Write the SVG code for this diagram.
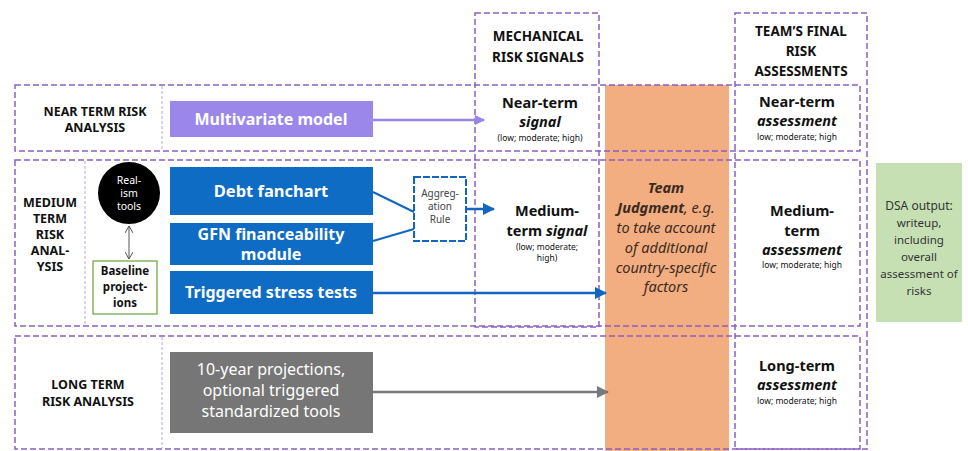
<svg xmlns="http://www.w3.org/2000/svg" width="968" height="451" viewBox="0 0 968 451">
<style>
text{font-family:"Noto Sans","Open Sans","Liberation Sans",sans-serif;text-anchor:middle;fill:#111}
.dash{fill:none;stroke:#8a5fc4;stroke-width:1.5;stroke-dasharray:6 3}
.thin{fill:none;stroke:#b8a5d8;stroke-width:1;stroke-dasharray:3 2}
.hdr{font-size:13.5px;font-weight:700}
.lbl{font-size:12.5px;font-weight:700}
.wb{fill:#fff;font-weight:700}
.big{font-size:14.5px;font-weight:700}
.bigi{font-size:14.5px;font-weight:700;font-style:italic}
.sm{font-size:8.5px}
.tj{font-size:14.5px;font-style:italic;fill:#3a2a20}
.dsa{font-size:11.5px;fill:#333}
.blue{fill:#0e6cc4}
</style>
<defs>
<marker id="ap" markerWidth="10" markerHeight="10" refX="9" refY="5" orient="auto" markerUnits="userSpaceOnUse"><path d="M0,0 L10,5 L0,10 z" fill="#9a84e6"/></marker>
<marker id="ab" markerWidth="12" markerHeight="12" refX="11" refY="6" orient="auto" markerUnits="userSpaceOnUse"><path d="M0,0 L12,6 L0,12 z" fill="#1266c0"/></marker>
<marker id="ag" markerWidth="12" markerHeight="12" refX="11" refY="6" orient="auto" markerUnits="userSpaceOnUse"><path d="M0,0 L12,6 L0,12 z" fill="#7a7a7a"/></marker>
<marker id="ak" markerWidth="8" markerHeight="8" refX="7" refY="4" orient="auto-start-reverse" markerUnits="userSpaceOnUse"><path d="M0,0 L7,4 L0,8" fill="none" stroke="#555" stroke-width="1"/></marker>
</defs>

<!-- orange judgment band -->
<g id="team-judgment">
<rect x="605" y="85" width="124" height="366" fill="#f2ad80"/>
<text class="tj" font-weight="700" x="666" y="193">Team</text>
<text class="tj" x="666" y="213"><tspan font-weight="700">Judgment</tspan>, e.g.</text>
<text class="tj" x="666" y="233">to take account</text>
<text class="tj" x="666" y="253">of additional</text>
<text class="tj" x="666" y="273">country-specific</text>
<text class="tj" x="666" y="292">factors</text>
</g>

<!-- rows -->
<g id="near-row">
<rect class="dash" x="15" y="85" width="845" height="66"/>
<line class="thin" x1="162" y1="86" x2="162" y2="150"/>
<text class="lbl" x="95" y="116">NEAR TERM RISK</text>
<text class="lbl" x="95" y="132">ANALYSIS</text>
</g>
<g id="medium-row">
<rect class="dash" x="15" y="160" width="845" height="166"/>
<line class="thin" x1="85" y1="161" x2="85" y2="325"/>
<text class="lbl" x="50" y="207">MEDIUM</text>
<text class="lbl" x="50" y="223">TERM</text>
<text class="lbl" x="50" y="239">RISK</text>
<text class="lbl" x="50" y="255">ANAL-</text>
<text class="lbl" x="50" y="271">YSIS</text>
</g>
<g id="long-row">
<rect class="dash" x="15" y="336" width="845" height="113"/>
<line class="thin" x1="162" y1="337" x2="162" y2="448"/>
<text class="lbl" x="88" y="389">LONG TERM</text>
<text class="lbl" x="88" y="406">RISK ANALYSIS</text>
</g>

<!-- columns -->
<g id="mechanical-col">
<rect class="dash" x="475" y="13" width="124" height="314"/>
<text class="hdr" x="538" y="41">MECHANICAL</text>
<text class="hdr" x="538" y="62">RISK SIGNALS</text>
</g>
<g id="final-col">
<rect class="dash" x="735" y="13" width="132" height="436"/>
<text class="hdr" x="801" y="36">TEAM’S FINAL</text>
<text class="hdr" x="801" y="56">RISK</text>
<text class="hdr" x="801" y="76">ASSESSMENTS</text>
</g>

<!-- source boxes -->
<g id="multivariate">
<rect x="170" y="101" width="203" height="36" fill="#9b87ea"/>
<text class="wb" font-size="16" x="271" y="125">Multivariate model</text>
</g>
<g id="debt-fanchart">
<rect class="blue" x="170" y="167" width="203" height="48"/>
<text class="wb" font-size="16.5" x="271" y="197">Debt fanchart</text>
</g>
<g id="gfn">
<rect class="blue" x="170" y="223" width="203" height="42"/>
<text class="wb" font-size="16" x="271" y="240">GFN financeability</text>
<text class="wb" font-size="16" x="271" y="260">module</text>
</g>
<g id="stress">
<rect class="blue" x="170" y="271" width="203" height="43"/>
<text class="wb" font-size="16" x="271" y="298">Triggered stress tests</text>
</g>
<g id="long-tools">
<rect x="170" y="352" width="203" height="81" fill="#767676"/>
<text font-size="16" style="fill:#fff" x="271" y="375">10-year projections,</text>
<text font-size="16" style="fill:#fff" x="271" y="396">optional triggered</text>
<text font-size="16" style="fill:#fff" x="271" y="417">standardized tools</text>
</g>
<g id="realism">
<circle cx="129" cy="193" r="31" fill="#000"/>
<text font-size="10.5" style="fill:#fff" x="129" y="184">Real-</text>
<text font-size="10.5" style="fill:#fff" x="129" y="197">ism</text>
<text font-size="10.5" style="fill:#fff" x="129" y="210">tools</text>
</g>
<g id="baseline">
<rect x="93" y="261" width="64" height="53" fill="#fff" stroke="#70ad47" stroke-width="1.3"/>
<text font-size="11.5" font-weight="700" x="125" y="275">Baseline</text>
<text font-size="11.5" font-weight="700" x="125" y="291">project-</text>
<text font-size="11.5" font-weight="700" x="125" y="307">ions</text>
</g>
<g id="aggregation">
<rect x="414" y="177" width="52" height="64" fill="#fff" stroke="#1266c0" stroke-width="2" stroke-dasharray="7 2"/>
<text font-size="10" style="fill:#444" x="440" y="197">Aggreg-</text>
<text font-size="10" style="fill:#444" x="440" y="210">ation</text>
<text font-size="10" style="fill:#444" x="440" y="223">Rule</text>
</g>

<!-- signals -->
<g id="near-signal">
<text class="big" x="540" y="108">Near-term</text>
<text class="bigi" x="540" y="127">signal</text>
<text class="sm" x="540" y="141">(low; moderate; high)</text>
</g>
<g id="medium-signal">
<text class="big" x="547" y="216">Medium-</text>
<text class="big" x="547" y="236">term <tspan font-style="italic">signal</tspan></text>
<text class="sm" x="547" y="250">(low; moderate;</text>
<text class="sm" x="547" y="261">high)</text>
</g>

<!-- assessments -->
<g id="near-assessment">
<text class="big" x="797" y="107">Near-term</text>
<text class="bigi" x="797" y="126">assessment</text>
<text class="sm" x="797" y="140">low; moderate; high</text>
</g>
<g id="medium-assessment">
<text class="big" x="802" y="216">Medium-</text>
<text class="big" x="802" y="236">term</text>
<text class="bigi" x="802" y="255">assessment</text>
<text class="sm" x="802" y="268">low; moderate; high</text>
</g>
<g id="long-assessment">
<text class="big" x="797" y="371">Long-term</text>
<text class="bigi" x="797" y="390">assessment</text>
<text class="sm" x="797" y="404">low; moderate; high</text>
</g>

<g id="dsa-output">
<rect x="876" y="163" width="86" height="159" fill="#c6e0b4"/>
<text font-size="12" style="fill:#333" x="919" y="210">DSA output:</text>
<text class="dsa" x="919" y="227">writeup,</text>
<text class="dsa" x="919" y="244">including</text>
<text class="dsa" x="919" y="261">overall</text>
<text class="dsa" x="919" y="278">assessment of</text>
<text class="dsa" x="919" y="295">risks</text>
</g>

<!-- connectors -->
<g id="connectors" fill="none">
<line x1="373" y1="120" x2="484" y2="120" stroke="#9a84e6" stroke-width="2.5" marker-end="url(#ap)"/>
<line x1="373" y1="192" x2="414" y2="212" stroke="#1266c0" stroke-width="2"/>
<line x1="373" y1="241" x2="414" y2="229" stroke="#1266c0" stroke-width="2"/>
<line x1="466" y1="209" x2="494" y2="209" stroke="#1266c0" stroke-width="2.5" marker-end="url(#ab)"/>
<line x1="373" y1="293" x2="606" y2="293" stroke="#1266c0" stroke-width="2.5" marker-end="url(#ab)"/>
<line x1="373" y1="392" x2="608" y2="392" stroke="#7a7a7a" stroke-width="2.5" marker-end="url(#ag)"/>
<line x1="129" y1="226" x2="129" y2="259" stroke="#555" stroke-width="1" marker-start="url(#ak)" marker-end="url(#ak)"/>
</g>
</svg>
